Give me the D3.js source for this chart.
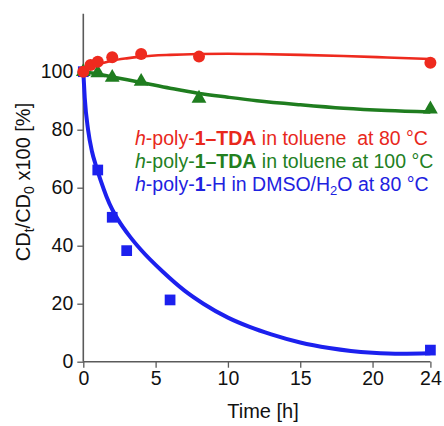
<!DOCTYPE html>
<html><head><meta charset="utf-8">
<script src="https://cdn.jsdelivr.net/npm/d3@7/dist/d3.min.js"></script>
<style>body{margin:0;background:#fff}svg{display:block}text{font-family:"Liberation Sans",Arial,Helvetica,sans-serif;white-space:pre}</style>
</head><body><svg id="c" width="444" height="426"></svg>
<script>
// measured points
const redT = [0, 0.5, 1, 2, 4, 8, 24];
const redV = [100, 102.3, 103.4, 105, 106.1, 105.2, 103.1];
const greenT = [0, 1, 2, 4, 8, 24];
const greenV = [100, 99.6, 98.0, 96.6, 90.8, 87.1];
const blueT = [0, 1, 2, 3, 6, 24];
const blueV = [100, 66.1, 49.8, 38.3, 21.3, 4.0];
// fitted curves
const redFitT = [0, 0.5, 1, 2, 3, 4, 6, 8, 10, 12, 15, 18, 21, 24];
const redFitV = [100, 101.5, 102.5, 103.8, 104.6, 105.2, 105.8, 106.1, 106.2, 106.1, 105.8, 105.4, 104.9, 104.4];
const greenFitT = [0, 1, 2, 4, 6, 8, 10, 12, 15, 18, 21, 24];
const greenFitV = [100, 99.2, 98.2, 96.3, 94.3, 92.5, 91.2, 90.0, 88.6, 87.4, 86.6, 86.1];
const blueFitT = [0, 0.1, 0.33, 0.6, 0.88, 1.2, 1.6, 2.0, 2.4, 3.2, 4.0, 5.5, 7, 8.3, 10, 11.5, 13, 15, 17, 18.5, 20, 22, 24];
const blueFitV = [100, 91, 80, 72.5, 67.5, 62.5, 57, 52.5, 49, 43.3, 38.5, 31, 24.5, 20, 15.2, 12.0, 9.4, 6.6, 4.7, 3.7, 3.1, 2.75, 2.9];
const xTicks = [0, 5, 10, 15, 20, 24];
const yTicks = [0, 20, 40, 60, 80, 100];
const legendLines = [
  {color: "#e8281c", parts: [["h","i"],["-poly-",""],["1–TDA","b"],[" in toluene  at 80 °C",""]]},
  {color: "#23801f", parts: [["h","i"],["-poly-",""],["1–TDA","b"],[" in toluene at 100 °C",""]]},
  {color: "#1e22e0", parts: [["h","i"],["-poly-",""],["1","b"],["-H in DMSO/H",""],["2","s"],["O at 80 °C",""]]}
];

const RED = "#ee2a1e", GREEN = "#1f7d1f", BLUE = "#1c20ee";
const svg = d3.select("#c");
const x = d3.scaleLinear().domain([0, 24]).range([83.3, 430.4]);
const y = d3.scaleLinear().domain([0, 120]).range([361.7, 13.7]);
const axisColor = "#5a5a5a";

// axes
const gx = svg.append("g").attr("transform", `translate(0,${y(0)})`)
  .call(d3.axisBottom(x).tickValues(xTicks).tickSize(6).tickPadding(3).tickFormat(d3.format("d")));
const gy = svg.append("g").attr("transform", `translate(${x(0)},0)`)
  .call(d3.axisLeft(y).tickValues(yTicks).tickSize(6).tickPadding(4).tickFormat(d3.format("d")));
[gx, gy].forEach(g => {
  g.select(".domain").attr("stroke", axisColor).attr("stroke-width", 1.6);
  g.selectAll(".tick line").attr("stroke", axisColor).attr("stroke-width", 1.3);
  g.selectAll(".tick text").attr("fill", "#111").style("font-size", "19.5px").style("font-family", '"Liberation Sans",Arial,sans-serif');
});
gy.select(".domain").attr("d", `M0,${y(120)}V${y(0)}`);
gx.select(".domain").attr("d", `M${x(0)},0H${x(24)}`);

// fitted lines
const line = d3.line().x(d => x(d[0])).y(d => y(d[1])).curve(d3.curveMonotoneX);
const zip = (a, b) => a.map((v, i) => [v, b[i]]);
svg.append("path").attr("d", line(zip(blueFitT, blueFitV))).attr("fill", "none").attr("stroke", BLUE).attr("stroke-width", 4);
svg.append("path").attr("d", line(zip(greenFitT, greenFitV))).attr("fill", "none").attr("stroke", GREEN).attr("stroke-width", 3.5);
svg.append("path").attr("d", line(zip(redFitT, redFitV))).attr("fill", "none").attr("stroke", RED).attr("stroke-width", 2.6);

// markers
const sq = d3.symbol().type(d3.symbolSquare).size(115);
svg.append("g").selectAll("path").data(zip(blueT, blueV)).join("path")
  .attr("d", sq).attr("transform", d => `translate(${x(d[0])},${y(d[1])})`).attr("fill", BLUE);
const tri = d3.symbol().type(d3.symbolTriangle).size(95);
svg.append("g").selectAll("path").data(zip(greenT, greenV)).join("path")
  .attr("d", tri).attr("transform", d => `translate(${x(d[0])},${y(d[1])})`).attr("fill", GREEN);
svg.append("g").selectAll("circle").data(zip(redT, redV)).join("circle")
  .attr("cx", d => x(d[0])).attr("cy", d => y(d[1])).attr("r", 6).attr("fill", RED);

// legend text
legendLines.forEach((ln, i) => {
  const t = svg.append("text").attr("x", 135).attr("y", 145 + i * 23).attr("fill", ln.color)
    .attr("xml:space", "preserve").style("font-size", "19.5px");
  ln.parts.forEach((p, j) => {
    const s = t.append("tspan").text(p[0]);
    if (p[1] === "i") s.style("font-style", "italic");
    if (p[1] === "b") s.style("font-weight", "bold");
    if (p[1] === "s") s.style("font-size", "13px").attr("dy", 4);
    if (j > 0 && ln.parts[j - 1][1] === "s") s.attr("dy", -4);
  });
});

// axis titles
svg.append("text").attr("x", 263).attr("y", 418).attr("text-anchor", "middle")
  .attr("fill", "#111").style("font-size", "20px").text("Time [h]");
const yl = svg.append("text").attr("transform", "translate(30,182) rotate(-90)").attr("text-anchor", "middle")
  .attr("fill", "#111").style("font-size", "20px");
yl.append("tspan").text("CD");
yl.append("tspan").text("t").style("font-size", "14px").attr("dy", 4);
yl.append("tspan").text("/CD").attr("dy", -4);
yl.append("tspan").text("0").style("font-size", "14px").attr("dy", 4);
yl.append("tspan").text(" x100 [%]").attr("dy", -4);
</script></body></html>
